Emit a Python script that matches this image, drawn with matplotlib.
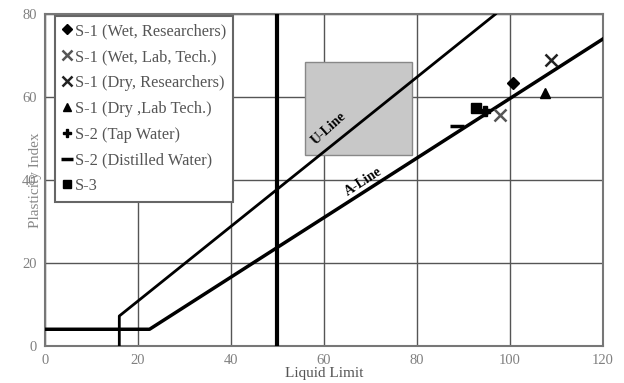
import matplotlib
matplotlib.use("Agg")
import matplotlib.pyplot as plt
from matplotlib.patches import Rectangle

plt.rcParams['font.family'] = ['Liberation Serif', 'DejaVu Serif']

# casagrande lines
u_ll = [16, 16, 96.9]
u_pi = [0, 7.2, 80]
a_ll = [0, 22.5, 120]
a_pi = [4, 4, 74]

# sample points (liquid limit, plasticity index)
labels = ["S-1 (Wet, Researchers)", "S-1 (Wet, Lab, Tech.)", "S-1 (Dry, Researchers)",
          "S-1 (Dry ,Lab Tech.)", "S-2 (Tap Water)", "S-2 (Distilled Water)", "S-3"]
ll = [100.6, 97.8, 108.8, 107.5, 94.6, 88.6, 92.7]
pi = [63.4, 55.7, 68.9, 61.0, 56.6, 53.0, 57.3]
markers = ['D', 'x', 'x', '^', 'P', '_', 's']
colors = ['black', '#555555', '#222222', 'black', 'black', 'black', 'black']
sizes = [6, 9, 9, 7, 7, 10, 7]

# shaded region
box_ll = (56, 79)
box_pi = (46, 68.4)

fig = plt.figure(figsize=(6.24, 3.83), dpi=100)
ax = fig.add_axes([0.072, 0.097, 0.894, 0.866])

ax.add_patch(Rectangle((box_ll[0], box_pi[0]), box_ll[1] - box_ll[0], box_pi[1] - box_pi[0],
                       facecolor='#c8c8c8', edgecolor='#888888', lw=1, zorder=1))

ax.plot(u_ll, u_pi, color='black', lw=2, zorder=3)
ax.plot(a_ll, a_pi, color='black', lw=2.5, zorder=3)
ax.plot([50, 50], [0, 80], color='black', lw=3, zorder=3)

for i in range(len(labels)):
    mew = 2.5 if markers[i] == '_' else (1.8 if markers[i] == 'x' else 1)
    ax.plot(ll[i], pi[i], linestyle='none', marker=markers[i], color=colors[i],
            markersize=sizes[i], markeredgewidth=mew, label=labels[i], zorder=4)

ax.text(61, 52.5, "U-Line", rotation=42, fontsize=10, fontweight='bold',
        ha='center', va='center', zorder=5)
ax.text(68.5, 39.5, "A-Line", rotation=33, fontsize=10, fontweight='bold',
        ha='center', va='center', zorder=5)

ax.set_xlim(0, 120)
ax.set_ylim(0, 80)
ax.set_xticks(range(0, 121, 20))
ax.set_yticks(range(0, 81, 20))
ax.grid(True, color='#555555', lw=1)
ax.set_axisbelow(True)
ax.tick_params(length=0, labelsize=10.5, labelcolor='#808080', pad=6)
for s in ax.spines.values():
    s.set_color('#777777')
    s.set_linewidth(1.5)

ax.set_xlabel("Liquid Limit", fontsize=11, color='#555555', labelpad=0)
ax.set_ylabel("Plasticity Index", fontsize=11, color='#888888', labelpad=-14)

leg = ax.legend(loc='upper left', bbox_to_anchor=(0.015, 1.0), fontsize=11.8,
                handlelength=0.6, handletextpad=0.15, labelspacing=0.6,
                borderpad=0.45, borderaxespad=0.1, frameon=True, fancybox=False,
                framealpha=1, edgecolor='#666666', markerscale=0.8)
leg.get_frame().set_linewidth(1.5)
for t in leg.get_texts():
    t.set_color('#555555')

fig.savefig("out.png", dpi=100)
